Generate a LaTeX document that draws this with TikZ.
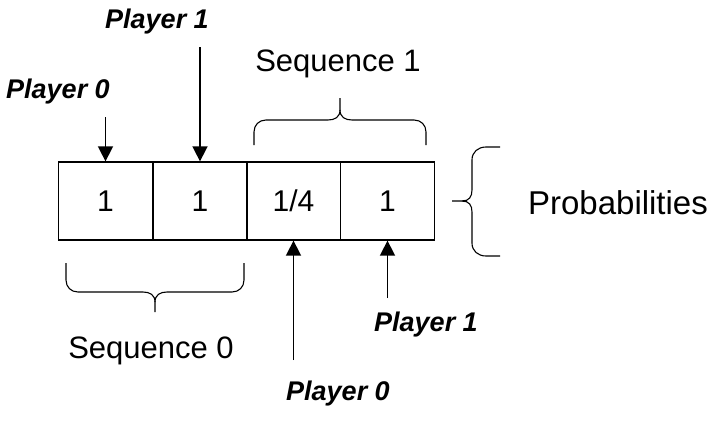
\documentclass[tikz,border=0pt]{standalone}
\usepackage{fontspec}
\setmainfont{Liberation Sans}
\usetikzlibrary{arrows.meta}
\tikzset{
  cell/.style={draw, line width=1.3pt, minimum width=94pt, minimum height=78pt, inner sep=0pt, font=\fontsize{30}{34}\selectfont},
  plab/.style={font=\fontsize{27}{30}\selectfont\bfseries\itshape, inner sep=0pt},
  slab/.style={font=\fontsize{31}{35}\selectfont, inner sep=0pt},
  arr/.style={line width=1.6pt, -{Triangle[length=15pt,width=15pt]}},
  brc/.style={line width=1.1pt}
}
\begin{document}
\begin{tikzpicture}[x=1pt,y=-1pt]
\useasboundingbox (0,0) rectangle (713,426);
% cells
\node[cell] (c1) at (105.5,201) {1};
\node[cell] (c2) at (200,201) {1};
\node[cell] (c3) at (293.5,201) {1/4};
\node[cell] (c4) at (387.5,201) {1};
% labels
\node[plab] (p0t) at (58,92) {Player 0};
\node[plab] (p1t) at (157,22) {Player 1};
\node[plab] (p0b) at (338,394) {Player 0};
\node[plab] (p1b) at (426,325) {Player 1};
\node[slab] (s1) at (338,64) {Sequence 1};
\node[slab] (s0) at (151,351) {Sequence 0};
\node[font=\fontsize{33}{37}\selectfont, inner sep=0pt] (pr) at (618,203) {Probabilities};
% arrow start points
\coordinate (a0t) at (105.5,117);
\coordinate (a1t) at (200,47);
\coordinate (a0b) at (293.5,360);
\coordinate (a1b) at (387.5,298);
\draw[arr] (a0t) -- (c1.north);
\draw[arr] (a1t) -- (c2.north);
\draw[arr] (a0b) -- (c3.south);
\draw[arr] (a1b) -- (c4.south);
% top brace (Sequence 1)
\draw[brc] (254,145) -- (254,132) .. controls (254,125) and (259,120) .. (266,120)
  -- (328,120) .. controls (335,120) and (340,117) .. (340,110) -- (340,98);
\draw[brc] (340,110) .. controls (340,117) and (345,120) .. (352,120)
  -- (414,120) .. controls (421,120) and (426,125) .. (426,132) -- (426,145);
% bottom brace (Sequence 0)
\draw[brc] (66,263) -- (66,280) .. controls (66,287) and (71,292) .. (78,292)
  -- (143,292) .. controls (150,292) and (155,295) .. (155,302) -- (155,312);
\draw[brc] (155,302) .. controls (155,295) and (160,292) .. (167,292)
  -- (232,292) .. controls (239,292) and (244,287) .. (244,280) -- (244,263);
% right brace (Probabilities)
\draw[brc] (500,147) -- (486,147) .. controls (478,147) and (472,152) .. (472,160)
  -- (472,190) .. controls (472,197) and (469,201) .. (462,201) -- (452,201);
\draw[brc] (462,201) .. controls (469,201) and (472,205) .. (472,212)
  -- (472,243) .. controls (472,251) and (478,256) .. (486,256) -- (500,256);
\end{tikzpicture}
\end{document}
